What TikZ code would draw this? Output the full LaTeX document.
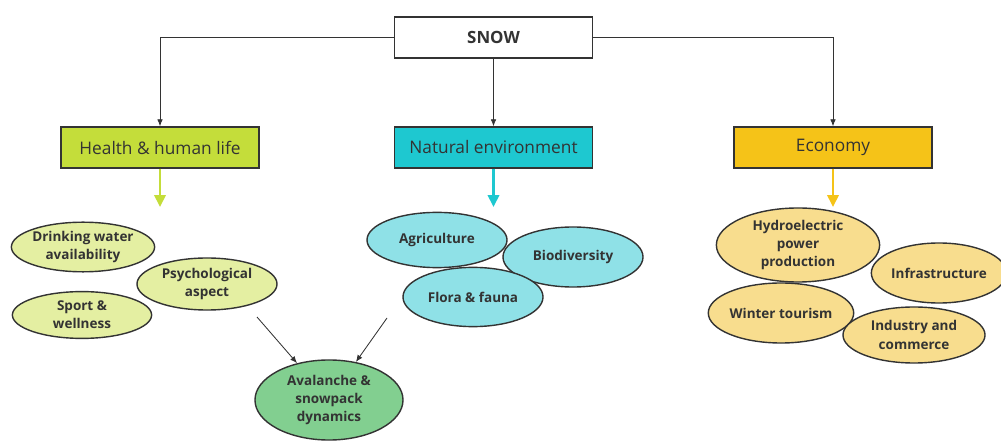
\documentclass[tikz,border=0pt]{standalone}
\usepackage{fontspec}
\setmainfont{Open Sans}
\usetikzlibrary{shapes.geometric,arrows.meta}
\definecolor{inkgray}{HTML}{333333}
\definecolor{healthbox}{HTML}{C4DD3A}
\definecolor{healthfill}{HTML}{E4EFA2}
\definecolor{naturebox}{HTML}{1EC8D0}
\definecolor{naturefill}{HTML}{8FE1E7}
\definecolor{econbox}{HTML}{F5C318}
\definecolor{econfill}{HTML}{F8DD8E}
\definecolor{avalfill}{HTML}{82CF90}
\begin{document}
\begin{tikzpicture}[x=0.025cm,y=-0.025cm,
    topic/.style={draw=inkgray,line width=1.1pt,minimum width=4.95cm,minimum height=1.02cm,
        inner sep=0pt,text=inkgray,font=\fontsize{12.3}{14}\selectfont},
    item/.style={ellipse,draw=inkgray,line width=1pt,inner sep=0pt,align=center,
        text=inkgray,font=\fontsize{9.6}{13}\selectfont\bfseries},
    conn/.style={line width=0.6pt,inkgray,-{Latex[length=5pt,width=4pt]}},
    down/.style={line width=2pt,-{Triangle[length=8.5pt,width=8pt]}}]
    \useasboundingbox (0,0) rectangle (1001,445);
    % top and the three themes
    \node [topic,fill=white,font=\fontsize{12}{14}\selectfont\bfseries] (snow) at (493.5,37.5) {SNOW};
    \node [topic,fill=healthbox] (health) at (160,147.5) {Health \& human life};
    \node [topic,fill=naturebox] (nature) at (493.5,147.5) {Natural environment};
    \node [topic,fill=econbox] (econ) at (833,147.5) {Economy};
    \draw [conn] (snow.west) -| (health.north);
    \draw [conn] (snow.south) -- (nature.north);
    \draw [conn] (snow.east) -| (econ.north);
    \coordinate (hdown) at (160,207);
    \coordinate (ndown) at (493.5,207);
    \coordinate (edown) at (833,207);
    \draw [down,healthbox] (health.south) -- (hdown);
    \draw [down,naturebox] (nature.south) -- (ndown);
    \draw [down,econbox] (econ.south) -- (edown);
    % health
    \node [item,fill=healthfill,minimum width=3.52cm,minimum height=1.24cm] (drink) at (83,247) {Drinking water\\availability};
    \node [item,fill=healthfill,minimum width=3.48cm,minimum height=1.17cm] (sport) at (82,315) {Sport \&\\wellness};
    \node [item,fill=healthfill,minimum width=3.5cm,minimum height=1.3cm] (psych) at (207,284) {Psychological\\aspect};
    % nature
    \node [item,fill=naturefill,minimum width=3.5cm,minimum height=1.38cm] (agri) at (437,240) {Agriculture};
    \node [item,fill=naturefill,minimum width=3.5cm,minimum height=1.5cm] (bio) at (573,257) {Biodiversity};
    \node [item,fill=naturefill,minimum width=3.5cm,minimum height=1.48cm] (flora) at (473,297) {Flora \& fauna};
    % economy
    \node [item,fill=econfill,minimum width=4.08cm,minimum height=1.85cm] (hydro) at (798,245) {Hydroelectric\\power\\production};
    \node [item,fill=econfill,minimum width=3.3cm,minimum height=1.5cm] (infra) at (939,273) {Infrastructure};
    \node [item,fill=econfill,minimum width=3.55cm,minimum height=1.5cm] (winter) at (781,313) {Winter tourism};
    \node [item,fill=econfill,minimum width=3.55cm,minimum height=1.4cm] (industry) at (914,335) {Industry and\\commerce};
    % avalanche
    \node [item,fill=avalfill,minimum width=3.7cm,minimum height=2cm] (aval) at (329,400) {Avalanche \&\\snowpack\\dynamics};
    \coordinate (fromhealth) at (257,317);
    \coordinate (fromnature) at (387,318);
    \draw [conn] (fromhealth) -- (aval);
    \draw [conn] (fromnature) -- (aval);
\end{tikzpicture}
\end{document}
